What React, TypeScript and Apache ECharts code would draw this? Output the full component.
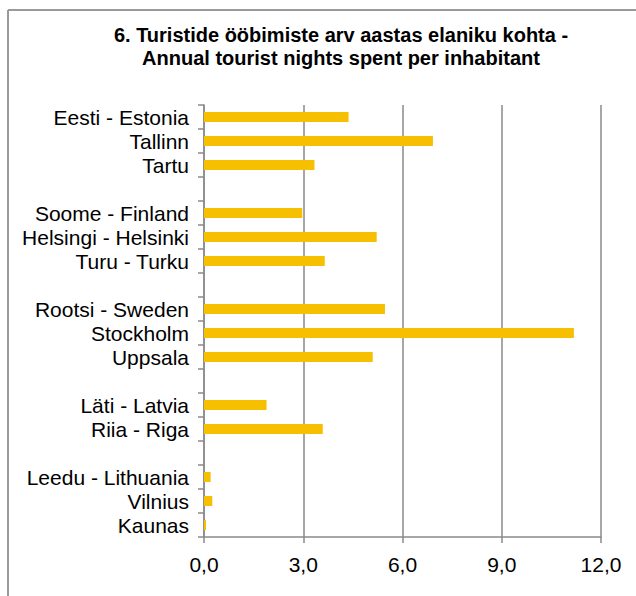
import React, { useEffect, useRef } from "react";
import * as echarts from "echarts";

const categories: string[] = [
  "Eesti - Estonia",
  "Tallinn",
  "Tartu",
  " ",
  "Soome - Finland",
  "Helsingi - Helsinki",
  "Turu - Turku",
  "  ",
  "Rootsi - Sweden",
  "Stockholm",
  "Uppsala",
  "   ",
  "Läti - Latvia",
  "Riia - Riga",
  "    ",
  "Leedu - Lithuania",
  "Vilnius",
  "Kaunas",
];

const values: (number | null)[] = [
  4.37, 6.92, 3.34, null,
  2.97, 5.22, 3.65, null,
  5.47, 11.18, 5.1, null,
  1.89, 3.59, null,
  0.2, 0.25, 0.06,
];

const titleLines: string[] = [
  "6. Turistide ööbimiste arv aastas elaniku kohta -",
  "Annual tourist nights spent per inhabitant",
];

const xMin = 0;
const xMax = 12;
const xStep = 3;

const FONT = "'Liberation Sans', Arial, sans-serif";
const GRAY = "#8a8a8a";

export default function App() {
  const ref = useRef<HTMLDivElement>(null);

  useEffect(() => {
    document.body.style.margin = "0";
    if (!ref.current) return;
    const chart = echarts.init(ref.current, undefined, { renderer: "svg" });
    chart.setOption({
      animation: false,
      backgroundColor: "#ffffff",
      title: {
        text: titleLines.join("\n"),
        left: 336,
        textAlign: "center",
        top: 18,
        textStyle: {
          fontFamily: FONT,
          fontWeight: "bold",
          fontSize: 20,
          lineHeight: 23,
          color: "#000",
        },
      },
      graphic: [
        {
          type: "line",
          shape: { x1: 8, y1: 10, x2: 636, y2: 10 },
          style: { stroke: "#9a9a9a", lineWidth: 2 },
        },
        {
          type: "line",
          shape: { x1: 8, y1: 10, x2: 8, y2: 596 },
          style: { stroke: "#9a9a9a", lineWidth: 2 },
        },
      ],
      grid: {
        left: 204,
        right: 35,
        top: 105,
        bottom: 59,
        containLabel: false,
      },
      xAxis: {
        type: "value",
        min: xMin,
        max: xMax,
        interval: xStep,
        axisLine: { show: true, lineStyle: { color: GRAY, width: 1.5 } },
        axisTick: { show: true, length: 6, lineStyle: { color: GRAY, width: 1.5 } },
        splitLine: { show: true, lineStyle: { color: GRAY, width: 1.5 } },
        axisLabel: {
          margin: 17,
          fontFamily: FONT,
          fontSize: 21,
          color: "#000",
          formatter: (v: number) => v.toFixed(1).replace(".", ","),
        },
      },
      yAxis: {
        type: "category",
        data: categories,
        inverse: true,
        axisLine: { show: true, lineStyle: { color: GRAY, width: 1.5 } },
        axisTick: {
          show: true,
          length: 6,
          interval: 0,
          alignWithLabel: false,
          lineStyle: { color: GRAY, width: 1.5 },
        },
        axisLabel: {
          interval: 0,
          margin: 15,
          fontFamily: FONT,
          fontSize: 21,
          color: "#000",
        },
        splitLine: { show: false },
      },
      series: [
        {
          type: "bar",
          data: values,
          barWidth: 10,
          itemStyle: { color: "#F6BF00" },
        },
      ],
    });
    return () => chart.dispose();
  }, []);

  return <div ref={ref} style={{ width: 636, height: 596 }} />;
}
